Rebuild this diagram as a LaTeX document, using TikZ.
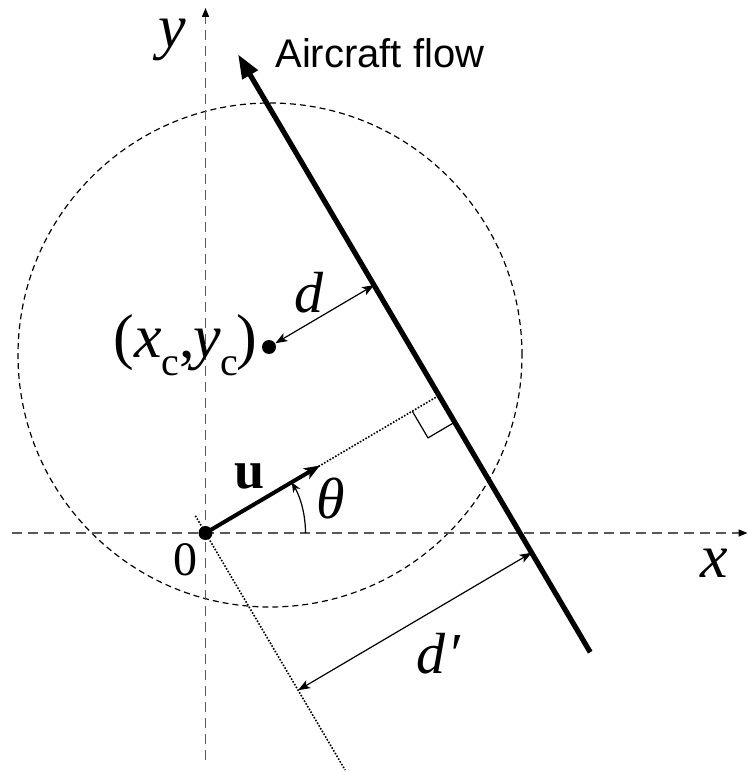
\documentclass[tikz,border=0pt]{standalone}
\usepackage{fontspec}
\setmainfont{Liberation Serif}
\newfontfamily\labelsans{Liberation Sans}
\usetikzlibrary{arrows.meta,calc}
\newcommand{\flowang}{30.5}
\newcommand{\lowc}{\raisebox{-0.28em}{\upshape\fontsize{20}{20}\selectfont c}}

\begin{document}
\begin{tikzpicture}[
  x=0.5pt, y=0.5pt,
  axis/.style={draw=black!65, line width=0.8pt, dash pattern=on 5pt off 3pt, -{Triangle[length=4.5pt,width=3.5pt,black]}},
  ring/.style={line width=0.6pt, dash pattern=on 3pt off 2pt},
  flow/.style={line width=2.6pt, -{Triangle[length=12pt,width=8.5pt]}},
  unitvec/.style={line width=2pt, -{Stealth[length=8pt,width=6pt,inset=2pt]}},
  dim/.style={line width=0.6pt, {Stealth[length=6pt,width=4.5pt,inset=1.5pt]}-{Stealth[length=6pt,width=4.5pt,inset=1.5pt]}},
  guide/.style={line width=0.8pt, dash pattern=on 0.8pt off 0.8pt},
  dot/.style={circle, fill, inner sep=0pt, minimum size=7pt},
  mathlbl/.style={font=\fontsize{31}{31}\selectfont\itshape, inner sep=0pt, anchor=base}
]
\useasboundingbox (-205.5,-239) rectangle (542.5,533);

\coordinate (O) at (0,0);
\coordinate (xl) at (-193.5,0);
\coordinate (xr) at (542,0);
\coordinate (yb) at (0,-227);
\coordinate (yt) at (0,525);
\coordinate (foot) at (\flowang:271);
\coordinate (head) at ($(foot)+(\flowang+90:396)$);
\coordinate (tail) at ($(foot)+(\flowang-90:298)$);
\coordinate (utip) at (\flowang:133);
\coordinate (gtop) at (\flowang+90:20);
\coordinate (gbot) at (\flowang-90:275);
\coordinate (dpa) at (\flowang-90:182.5);
\coordinate (dpb) at ($(foot)+(\flowang-90:182.5)$);

\draw[ring] (64.5,178) circle[radius=252];
\draw[axis] (xl) -- (xr);
\draw[axis] (yb) -- (yt);

\draw[guide] (O) -- (foot);
\draw[guide] (gtop) -- (gbot);
\draw[line width=0.6pt] ($(foot)+(\flowang+180:31)$) -- ++(\flowang-90:31) -- ($(foot)+(\flowang-90:31)$);

\draw[flow] (tail) -- (head);

\node[dot] (cen) at (63.5,186) {};
\coordinate (dfoot) at ($(cen)+(\flowang:122)$);
\draw[dim] (cen) -- (dfoot);
\draw[dim] (dpa) -- (dpb);

\draw[line width=0.6pt, -{Stealth[length=5pt,width=4pt,inset=1.5pt]}] (100,0) arc[start angle=0, end angle=\flowang, radius=100];
\draw[unitvec] (O) -- (utip);
\node[dot] (orig) at (O) {};

\node[mathlbl] (ylab) at (-33.5,485) {y};
\node[mathlbl] (xlab) at (508.5,-44) {x};
\node[font=\fontsize{24}{24}\selectfont, inner sep=0pt, anchor=base] (zero) at (-19.5,-42) {0};
\node[font=\fontsize{20}{20}\selectfont\labelsans, inner sep=0pt, anchor=base west] (flowlbl) at (69.5,465) {Aircraft flow};
\node[mathlbl, font=\fontsize{29}{29}\selectfont\itshape] (dlab) at (103.5,220) {d};
\node[mathlbl, font=\fontsize{29}{29}\selectfont\itshape] (dplab) at (233,-140) {d\kern1pt′};
\node[font=\fontsize{27}{27}\selectfont\bfseries, inner sep=0pt, anchor=base] (ulab) at (44.5,45) {u};
\node[font=\fontsize{29}{29}\selectfont\itshape, inner sep=0pt, anchor=base] (thlab) at (125,15) {θ};
\node[mathlbl, anchor=base east] (clab) at (52,175) {{\upshape(}x\lowc{\upshape,}\kern-1pt y\lowc\kern-1pt{\upshape)}};
\end{tikzpicture}
\end{document}
